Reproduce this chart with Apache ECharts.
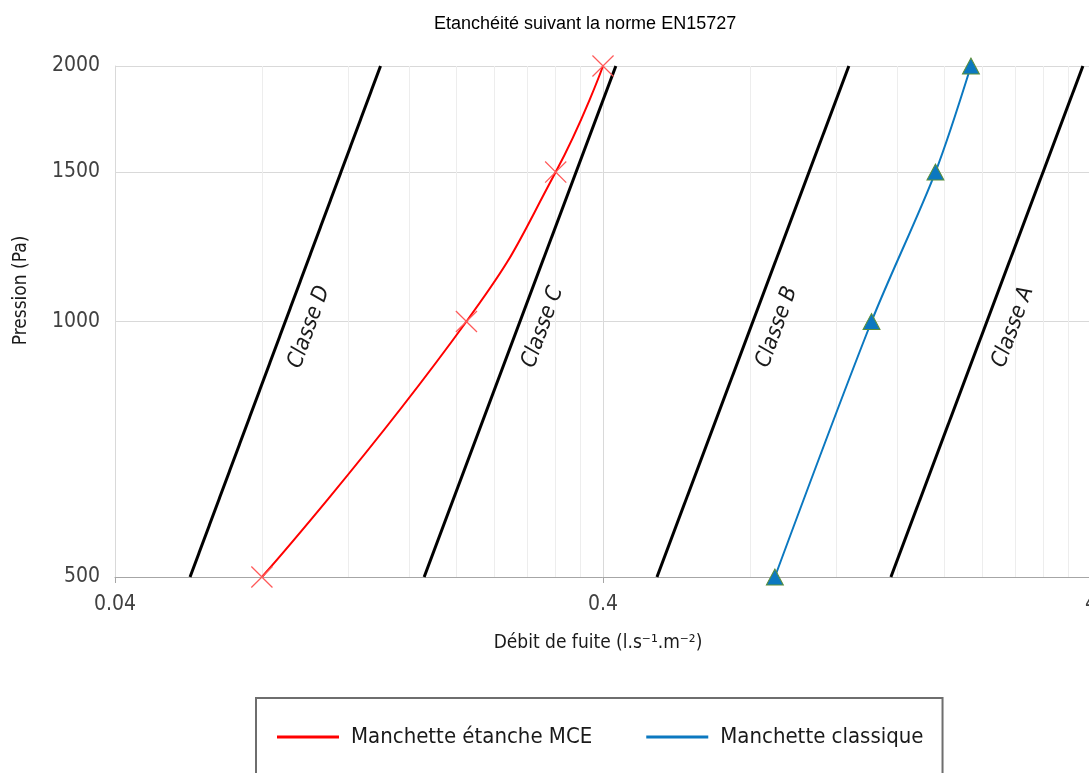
<!DOCTYPE html>
<html><head><meta charset="utf-8">
<script src="https://cdn.jsdelivr.net/npm/echarts@6/dist/echarts.min.js"></script>
<style>html,body{margin:0;padding:0;background:#fff}#c{width:1089px;height:773px}</style>
</head><body><div id="c"></div>
<script>
const titleText = 'Etanchéité suivant la norme EN15727';
const xTickValues = [0.04, 0.4, 4];
const xMinorValues = [0.08,0.12,0.16,0.2,0.24,0.28,0.32,0.36,0.8,1.2,1.6,2.0,2.4,2.8,3.2,3.6];
const yTickValues = [500, 1000, 1500, 2000];
const pressures = [500, 1000, 1500, 2000];
const mceName = 'Manchette étanche MCE';
const classicName = 'Manchette classique';
const mceLeak = [0.08, 0.21, 0.32, 0.40];
const classicLeak = [0.90, 1.42, 1.92, 2.27];
const classNames = ['Classe D', 'Classe C', 'Classe B', 'Classe A'];
const classEndPressures = [500, 2000];
const classD = [0.057, 0.14];
const classC = [0.172, 0.425];
const classB = [0.516, 1.276];
const classA = [1.556, 3.85];
const classLabelX = [0.1, 0.301, 0.909, 2.77];
const classLabelP = 985;

const NARROW = "'Liberation Sans Narrow','Arial Narrow','DejaVu Sans Condensed','Roboto Condensed',sans-serif";
const CROSS = 'path://M4,0L50,46L96,0L100,4L54,50L100,96L96,100L50,54L4,100L0,96L46,50L0,4Z';
const classLines = [classD, classC, classB, classA];

const chart = echarts.init(document.getElementById('c'), null, {renderer: 'canvas'});

const classSeries = classLines.map((arr, i) => ({
  name: classNames[i],
  type: 'line',
  xAxisIndex: 0, yAxisIndex: 0,
  data: classEndPressures.map((p, k) => [arr[k], p]),
  symbol: 'none',
  silent: true,
  lineStyle: {color: '#000', width: 3},
  itemStyle: {color: '#000'},
  z: 3,
  markPoint: {
    silent: true,
    symbol: 'circle',
    symbolSize: 0,
    itemStyle: {color: 'rgba(0,0,0,0)'},
    data: [{coord: [classLabelX[i], classLabelP]}],
    label: {
      show: true, position: 'inside', formatter: classNames[i],
      rotate: 70, color: '#1a1a1a', fontSize: 22, fontStyle: 'italic',
      fontFamily: NARROW
    }
  }
}));

const option = {
  backgroundColor: '#fff',
  animation: false,
  title: {
    text: titleText, left: 429, top: 10,
    textStyle: {fontSize: 18, fontWeight: 'normal', color: '#000', fontFamily: "'Liberation Sans',Arial,sans-serif"}
  },
  legend: {
    left: 256, top: 698,
    orient: 'horizontal',
    icon: 'rect',
    itemWidth: 62, itemHeight: 3,
    itemGap: 54,
    itemStyle: {borderWidth: 0},
    padding: [28, 19, 60, 21],
    borderColor: '#6e6e6e', borderWidth: 2,
    textStyle: {fontSize: 22, color: '#1a1a1a', fontFamily: NARROW, padding: [0, 0, 0, 7]}
  },
  grid: {left: 115, right: -2, top: 66, bottom: 196, containLabel: false, outerBoundsMode: 'none'},
  xAxis: [{
    type: 'log', logBase: 10, min: 0.04, max: 4,
    name: 'Débit de fuite (l.s⁻¹.m⁻²)',
    nameLocation: 'middle', nameGap: 57,
    nameTextStyle: {fontSize: 19, color: '#1a1a1a', fontFamily: NARROW, padding: [0, 10, 0, 0]},
    axisLine: {show: true, lineStyle: {color: '#a6a6a6', width: 1}},
    axisTick: {show: true, length: 6, lineStyle: {color: '#a6a6a6'}, customValues: xTickValues},
    axisLabel: {customValues: xTickValues, formatter: v => String(+v.toPrecision(3)), margin: 17,
      fontSize: 21, color: '#404040', fontFamily: NARROW},
    splitLine: {show: true, lineStyle: {color: '#d9d9d9', width: 1}},
    minorTick: {show: false}, minorSplitLine: {show: false}
  }, {
    type: 'log', logBase: 10, min: 0.04, max: 4,
    position: 'bottom',
    axisLine: {show: false},
    axisTick: {show: false, customValues: xMinorValues},
    axisLabel: {show: false, customValues: xMinorValues},
    splitLine: {show: true, lineStyle: {color: '#ededed', width: 1}}
  }],
  yAxis: [{
    type: 'log', logBase: 10, min: 500, max: 2000,
    name: 'Pression (Pa)',
    nameLocation: 'middle', nameGap: 84,
    nameTextStyle: {fontSize: 19, color: '#1a1a1a', fontFamily: NARROW, padding: [0, 0, 0, 62]},
    axisLine: {show: true, lineStyle: {color: '#d9d9d9', width: 1}},
    axisTick: {show: false, customValues: yTickValues},
    axisLabel: {customValues: yTickValues, formatter: v => String(Math.round(v)), margin: 15,
      fontSize: 21, color: '#404040', fontFamily: NARROW},
    splitLine: {show: true, lineStyle: {color: '#d9d9d9', width: 1}},
    minorSplitLine: {show: false}
  }],
  series: classSeries.concat([
    {
      name: mceName, type: 'line', xAxisIndex: 0, yAxisIndex: 0,
      data: pressures.map((p, i) => [mceLeak[i], p]),
      smooth: 0.5,
      color: '#ff0000',
      lineStyle: {color: '#ff0000', width: 2},
      symbol: CROSS,
      symbolSize: 22,
      showAllSymbol: true,
      itemStyle: {color: '#ff5a5a', borderWidth: 0},
      emphasis: {disabled: true},
      z: 5
    },
    {
      name: classicName, type: 'line', xAxisIndex: 0, yAxisIndex: 0,
      data: pressures.map((p, i) => [classicLeak[i], p]),
      smooth: 0.3,
      color: '#0b78c0',
      lineStyle: {color: '#0b78c0', width: 2},
      symbol: 'triangle',
      symbolSize: [17, 16],
      showAllSymbol: true,
      itemStyle: {color: '#0b78c0', borderColor: '#5b8f3b', borderWidth: 1},
      emphasis: {disabled: true},
      z: 5
    }
  ])
};
option.legend.data = [
  {name: mceName, itemStyle: {color: '#ff0000', borderWidth: 0}},
  {name: classicName, itemStyle: {color: '#0b78c0', borderWidth: 0}}
];
chart.setOption(option);
</script></body></html>
